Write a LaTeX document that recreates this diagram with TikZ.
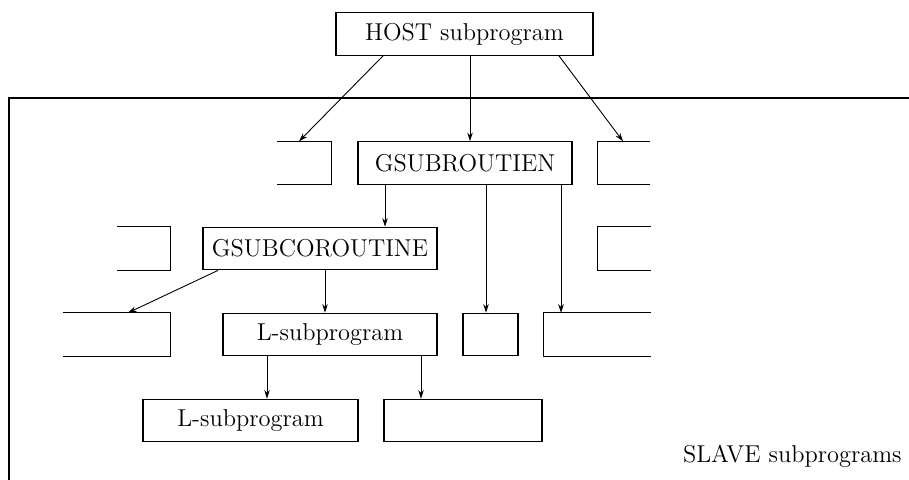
\documentclass[tikz,border=0pt]{standalone}
\usepackage{tikz}
\usetikzlibrary{arrows.meta, calc}

\begin{document}
\begin{tikzpicture}[x=0.5pt, y=-0.5pt, >={Stealth[length=4.3pt, width=2.8pt]},
    txt/.style={font=\fontsize{12.2}{14}\selectfont},
    box/.style={txt, draw, line width=0.6pt, inner sep=0pt, minimum height=21.3pt},
    stub/.style={inner sep=0pt, minimum height=21.3pt},
    link/.style={->, line width=0.45pt}]
    \useasboundingbox (0,0) rectangle (909,480);

    % frame of the slave part
    \draw[line width=0.9pt] (909,98) -- (9,98) -- (9,480);

    % host
    \node[box, minimum width=128.5pt] (host) at (464.5,34) {HOST subprogram};

    % first row
    \node[stub, minimum width=27pt] (pl1) at (304,163) {};
    \node[box, minimum width=107pt] (gsr) at (465,163) {GSUBROUTIEN};
    \node[stub, minimum width=26pt] (pr1) at (624,163) {};

    % second row
    \node[stub, minimum width=26.5pt] (pl2) at (143.5,248.5) {};
    \node[box, minimum width=117pt] (gco) at (320,248.5) {GSUBCOROUTINE};
    \node[stub, minimum width=26.5pt] (pr2) at (624.5,248.5) {};

    % third row
    \node[stub, minimum width=53.5pt] (pl3) at (116.5,334.5) {};
    \node[box, minimum width=107pt] (lsub) at (330,334.5) {L-subprogram};
    \node[box, minimum width=27.5pt] (sq) at (490.5,334.5) {};
    \node[stub, minimum width=53.5pt] (pr3) at (597.5,334.5) {};

    % fourth row
    \node[box, minimum width=107.5pt] (lsubb) at (250.5,420.5) {L-subprogram};
    \node[box, minimum width=79pt] (emp) at (463,420.5) {};

    \node[txt, inner sep=0pt, anchor=base east] (slave) at (902,462) {SLAVE subprograms};

    % boxes cut by the border of the figure
    \foreach \n in {pl1,pl2,pl3}
        \draw[line width=0.6pt] (\n.north west) -- (\n.north east) -- (\n.south east) -- (\n.south west);
    \foreach \n in {pr1,pr2,pr3}
        \draw[line width=0.6pt] (\n.north east) -- (\n.north west) -- (\n.south west) -- (\n.south east);

    % calls
    \draw[link] ($(host.south)+(-81.5,0)$) -- ($(pl1.north)+(-5,0)$);
    \draw[link] ($(host.south)+(5.5,0)$) -- ($(gsr.north)+(5,0)$);
    \draw[link] ($(host.south)+(94.5,0)$) -- ($(pr1.north)+(-1,0)$);
    \draw[link] ($(gsr.south)+(-80,0)$) -- ($(gco.north)+(65,0)$);
    \draw[link] ($(gsr.south)+(21,0)$) -- ($(sq.north)+(-4.5,0)$);
    \draw[link] ($(gsr.south)+(96,0)$) -- ($(pr3.north)+(-36.5,0)$);
    \draw[link] ($(gco.south)+(-102,0)$) -- ($(pl3.north)+(11.5,0)$);
    \draw[link] ($(gco.south)+(5,0)$) -- ($(lsub.north)+(-5,0)$);
    \draw[link] ($(lsub.south)+(-63,0)$) -- ($(lsubb.north)+(16.5,0)$);
    \draw[link] ($(lsub.south)+(91,0)$) -- ($(emp.north)+(-42,0)$);
\end{tikzpicture}
\end{document}
